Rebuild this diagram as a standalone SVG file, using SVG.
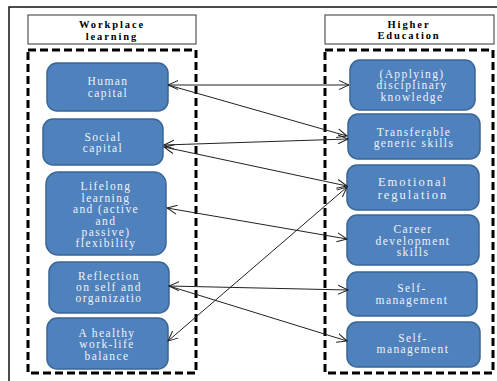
<svg xmlns="http://www.w3.org/2000/svg" width="497" height="381" viewBox="0 0 497 381">
<style>
.frame{fill:none;stroke:#111;stroke-width:1.5}
.hdr{fill:#fff;stroke:#555;stroke-width:1.2}
.dash{fill:none;stroke:#000;stroke-width:3;stroke-dasharray:8,4}
.node{fill:#4f81bd;stroke:#3a6696;stroke-width:1.5}
text{font-family:"Liberation Serif","Times New Roman","DejaVu Serif",serif}
.ht{font-weight:bold;font-size:10.5px;letter-spacing:1.9px;fill:#000;text-anchor:middle}
.nt{font-size:11.5px;letter-spacing:1.4px;fill:#eef2f8;text-anchor:middle}
.big{font-size:12.5px;letter-spacing:2px}
.conn{stroke:#222;stroke-width:1;fill:none}
</style>
<defs>
<marker id="ah" markerUnits="userSpaceOnUse" markerWidth="12" markerHeight="12" refX="10" refY="5" orient="auto-start-reverse" viewBox="0 0 12 10">
<path d="M0,0.5 L10,5 L0,9.5" fill="none" stroke="#222" stroke-width="1"/>
</marker>
</defs>
<rect class="frame" x="9" y="7" width="500" height="400"/>
<g id="hdr-left"><rect class="hdr" x="28" y="15" width="168" height="29"/><text class="ht" x="112" y="28">Workplace</text><text class="ht" x="112" y="39.5">learning</text></g>
<g id="hdr-right"><rect class="hdr" x="325" y="15" width="169" height="29"/><text class="ht" x="409" y="27.5">Higher</text><text class="ht" x="409" y="39">Education</text></g>
<rect class="dash" x="28" y="50" width="168" height="323"/>
<rect class="dash" x="325" y="50" width="168" height="323"/>
<g id="n-human"><rect class="node" x="47" y="63" width="121" height="48" rx="10"/><text class="nt" x="108" y="85">Human</text><text class="nt" x="108" y="97">capital</text></g>
<g id="n-social"><rect class="node" x="43" y="119" width="120" height="46" rx="10"/><text class="nt" x="103" y="141">Social</text><text class="nt" x="103" y="152">capital</text></g>
<g id="n-lifelong"><rect class="node" x="46" y="172" width="120" height="83" rx="12"/><text class="nt" x="106" y="190">Lifelong</text><text class="nt" x="106" y="202">learning</text><text class="nt" x="106" y="213">and (active</text><text class="nt" x="106" y="225">and</text><text class="nt" x="106" y="236">passive)</text><text class="nt" x="106" y="247">flexibility</text></g>
<g id="n-reflection"><rect class="node" x="49" y="262" width="120" height="51" rx="10"/><text class="nt" x="109" y="280">Reflection</text><text class="nt" x="109" y="291">on self  and</text><text class="nt" x="109" y="302">organizatio</text></g>
<g id="n-healthy"><rect class="node" x="47" y="318" width="121" height="51" rx="10"/><text class="nt" x="107" y="337">A healthy</text><text class="nt" x="107" y="348">work-life</text><text class="nt" x="107" y="360">balance</text></g>
<g id="n-applying"><rect class="node" x="350" y="60" width="125" height="50" rx="10"/><text class="nt" x="412" y="78">(Applying)</text><text class="nt" x="412" y="89">disciplinary</text><text class="nt" x="412" y="101">knowledge</text></g>
<g id="n-transferable"><rect class="node" x="348" y="114" width="132" height="45" rx="10"/><text class="nt" x="414" y="136">Transferable</text><text class="nt" x="414" y="147">generic  skills</text></g>
<g id="n-emotional"><rect class="node" x="347" y="165" width="132" height="45" rx="10"/><text class="nt big" x="413" y="186">Emotional</text><text class="nt big" x="413" y="199">regulation</text></g>
<g id="n-career"><rect class="node" x="347" y="215" width="132" height="50" rx="10"/><text class="nt" x="413" y="233">Career</text><text class="nt" x="413" y="245">development</text><text class="nt" x="413" y="256">skills</text></g>
<g id="n-self1"><rect class="node" x="347" y="272" width="130" height="44" rx="10"/><text class="nt" x="412" y="292">Self-</text><text class="nt" x="412" y="304">management</text></g>
<g id="n-self2"><rect class="node" x="347" y="322" width="133" height="45" rx="10"/><text class="nt" x="413" y="342">Self-</text><text class="nt" x="413" y="353">management</text></g>
<g id="connectors">
<line class="conn" x1="168" y1="85" x2="349" y2="85" marker-start="url(#ah)" marker-end="url(#ah)"/>
<line class="conn" x1="168" y1="85" x2="347" y2="136" marker-end="url(#ah)"/>
<line class="conn" x1="164" y1="145" x2="348" y2="139" marker-start="url(#ah)" marker-end="url(#ah)"/>
<line class="conn" x1="164" y1="147" x2="347" y2="186" marker-start="url(#ah)" marker-end="url(#ah)"/>
<line class="conn" x1="167" y1="208" x2="347" y2="239" marker-start="url(#ah)" marker-end="url(#ah)"/>
<line class="conn" x1="169" y1="286" x2="348" y2="290" marker-start="url(#ah)" marker-end="url(#ah)"/>
<line class="conn" x1="169" y1="286" x2="347" y2="341" marker-end="url(#ah)"/>
<line class="conn" x1="168" y1="341" x2="347" y2="187" marker-start="url(#ah)" marker-end="url(#ah)"/>
</g>
</svg>
